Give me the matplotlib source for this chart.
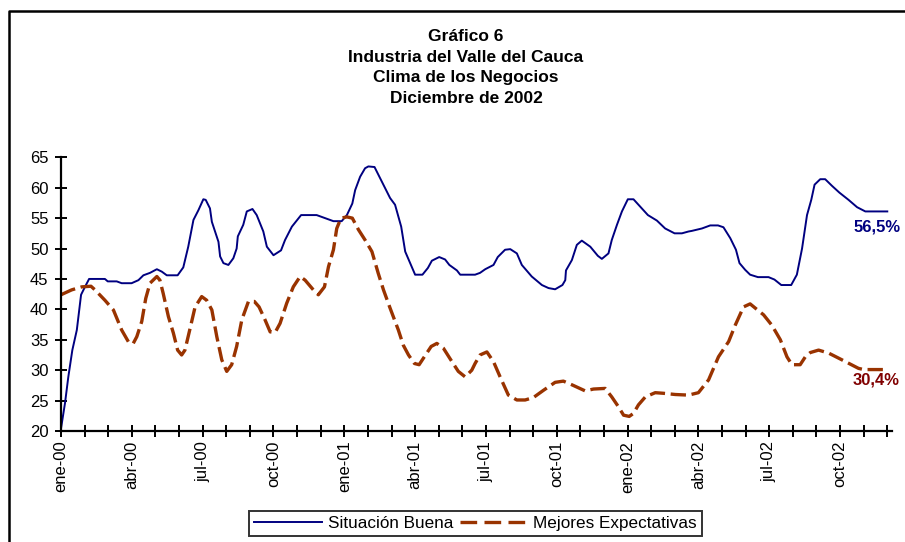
import matplotlib
matplotlib.use("Agg")
import matplotlib.pyplot as plt
from matplotlib.lines import Line2D

plt.rcParams['font.family'] = ['Liberation Sans', 'DejaVu Sans']

# ---- data ----
month_abbr = ["ene", "feb", "mar", "abr", "may", "jun", "jul", "ago", "sep", "oct", "nov", "dic"]
years = ["00", "01", "02"]
categories = [f"{m}-{y}" for y in years for m in month_abbr]  # 36 monthly categories

# positions expressed in months since ene-00
buena_t = [0.00, 0.17, 0.31, 0.48, 0.67, 0.85, 0.99, 1.19, 1.86, 1.98, 2.36, 2.57, 2.99, 3.28, 3.49,
           3.77, 4.06, 4.27, 4.48, 4.94, 5.18, 5.39, 5.61, 5.82, 6.03, 6.13, 6.31, 6.39, 6.67, 6.74,
           6.88, 7.09, 7.30, 7.44, 7.49, 7.72, 7.87, 8.11, 8.29, 8.57, 8.72, 9.00, 9.32, 9.49, 9.78,
           10.17, 10.83, 11.19, 11.54, 11.89, 12.11, 12.34, 12.46, 12.67, 12.88, 13.02, 13.28, 13.59,
           13.94, 14.15, 14.41, 14.58, 14.79, 15.00, 15.31, 15.54, 15.71, 16.02, 16.27, 16.45, 16.77,
           16.91, 17.54, 17.75, 17.97, 18.32, 18.50, 18.81, 19.03, 19.31, 19.52, 19.94, 20.37, 20.65,
           20.93, 21.24, 21.36, 21.39, 21.64, 21.85, 22.06, 22.42, 22.74, 22.91, 23.19, 23.33, 23.55,
           23.76, 24.01, 24.25, 24.53, 24.86, 25.24, 25.59, 25.99, 26.30, 26.58, 26.72, 27.15, 27.50,
           27.83, 28.06, 28.35, 28.59, 28.74, 28.98, 29.19, 29.52, 29.97, 30.22, 30.51, 30.93, 31.17,
           31.39, 31.60, 31.78, 31.92, 32.16, 32.37, 32.66, 32.97, 33.36, 33.72, 34.07, 35.00]
buena_v = [20.4, 24.6, 28.9, 33.3, 36.6, 42.4, 43.5, 45.0, 45.0, 44.6, 44.6, 44.3, 44.3, 44.8, 45.6,
           46.0, 46.6, 46.2, 45.6, 45.6, 46.9, 50.3, 54.7, 56.3, 58.1, 58.0, 56.6, 54.4, 51.1, 48.7,
           47.6, 47.3, 48.4, 50.0, 52.0, 53.9, 56.1, 56.5, 55.5, 52.8, 50.3, 48.9, 49.7, 51.4, 53.6,
           55.5, 55.5, 55.0, 54.5, 54.5, 55.5, 57.4, 59.6, 61.8, 63.2, 63.5, 63.4, 61.0,
           58.3, 57.2, 53.6, 49.5, 47.6, 45.7, 45.7, 46.8, 48.0, 48.6, 48.2, 47.3, 46.4,
           45.7, 45.7, 46.0, 46.6, 47.3, 48.6, 49.8, 49.9, 49.2, 47.3, 45.4, 44.0, 43.5,
           43.3, 44.0, 44.8, 46.4, 48.1, 50.6, 51.3, 50.3, 48.8, 48.3, 49.2, 51.4, 53.9,
           56.1, 58.1, 58.1, 56.9, 55.5, 54.6, 53.3, 52.5, 52.5, 52.8, 52.9, 53.3, 53.8,
           53.8, 53.5, 51.7, 49.8, 47.6, 46.5, 45.7, 45.3, 45.3, 44.9, 44.0, 44.0, 45.7,
           50.0, 55.5, 58.0, 60.5, 61.4, 61.4, 60.3, 59.2, 58.0, 56.8, 56.1, 56.1]

expect_t = [0.00, 0.45, 0.88, 1.27, 1.44, 1.86, 2.22, 2.57, 2.88, 3.06, 3.21, 3.42, 3.59, 3.77, 4.06,
            4.19, 4.33, 4.55, 4.76, 4.94, 5.11, 5.25, 5.47, 5.68, 5.96, 6.17, 6.39, 6.60, 6.81, 7.02,
            7.23, 7.44, 7.66, 7.94, 8.19, 8.39, 8.64, 8.86, 9.07, 9.28, 9.56, 9.84, 10.13, 10.34,
            10.69, 10.90, 11.16, 11.33, 11.54, 11.68, 11.86, 12.11, 12.34, 12.60, 12.88, 13.17,
            13.44, 13.66, 13.94, 14.29, 14.50, 14.72, 14.97, 15.17, 15.39, 15.68, 15.92, 16.20,
            16.56, 16.83, 17.12, 17.40, 17.54, 17.75, 18.04, 18.32, 18.60, 18.95, 19.31, 19.66,
            20.01, 20.44, 20.93, 21.28, 21.64, 22.20, 22.56, 23.05, 23.33, 23.61, 23.83, 24.07,
            24.25, 24.46, 24.75, 25.17, 25.52, 26.02, 26.58, 27.00, 27.43, 27.85, 28.28, 28.56,
            28.91, 29.19, 29.41, 29.76, 30.11, 30.47, 30.75, 30.96, 31.31, 31.53, 31.74, 32.09,
            32.52, 33.08, 33.78, 34.00, 34.89]
expect_v = [42.4, 43.2, 43.7, 43.8, 43.2, 41.5, 39.9, 36.6, 34.5, 34.4, 35.5, 38.0, 41.8, 44.3, 45.4,
            44.8, 42.6, 38.8, 36.1, 33.3, 32.5, 33.3, 36.9, 40.4, 42.1, 41.5, 39.9, 35.5, 31.7, 29.8,
            30.9, 33.9, 38.3, 41.3, 41.3, 40.4, 38.3, 36.3, 36.2, 37.7, 41.0, 43.7, 45.4, 44.8,
            43.2, 42.4, 43.7, 47.0, 49.8, 53.3, 55.0, 55.2, 55.0, 53.1, 51.4, 49.5,
            45.9, 43.2, 40.2, 36.6, 34.1, 32.5, 31.1, 30.9, 32.2, 33.9, 34.4, 33.6,
            31.4, 29.8, 28.9, 30.0, 31.1, 32.5, 33.0, 31.4, 28.9, 25.9, 25.1, 25.1,
            25.5, 26.7, 28.0, 28.2, 27.6, 26.6, 26.9, 27.0, 25.6, 24.0, 22.6, 22.4,
            22.9, 24.3, 25.6, 26.3, 26.2, 26.0, 25.9, 26.3, 28.4, 32.2, 34.7, 37.4,
            40.4, 40.9, 40.2, 39.1, 37.4, 35.0, 32.2, 30.9, 30.9, 32.2, 32.9, 33.3,
            32.8, 31.7, 30.3, 30.1, 30.1]

series_names = ["Situación Buena", "Mejores Expectativas"]
end_labels = ["56,5%", "30,4%"]
title_lines = ["Gráfico 6", "Industria del Valle del Cauca", "Clima de los Negocios", "Diciembre de 2002"]

# ---- style ----
BLUE = "#000080"
ORANGE = "#993300"
LABEL_RED = "#800000"

W, H = 905, 542
fig = plt.figure(figsize=(W / 100, H / 100), dpi=100)
ax = fig.add_axes([61 / W, 1 - 431 / H, (892 - 61) / W, (431 - 157.3) / H])

ax.plot(buena_t, buena_v, color=BLUE, lw=1.4, label=series_names[0], solid_joinstyle='round')
ax.plot(expect_t, expect_v, color=ORANGE, lw=2.4, linestyle=(0, (4.6, 1.7)),
        label=series_names[1])

ax.set_ylim(20, 65)
ax.set_xlim(0, 35.2)
ax.set_yticks(range(20, 66, 5))
ax.set_yticklabels([str(v) for v in range(20, 66, 5)], fontsize=12)
ax.set_xticks(range(len(categories)))
ax.set_xticklabels([c if i % 3 == 0 else "" for i, c in enumerate(categories)],
                   rotation=90, fontsize=12)
ax.tick_params(axis='both', direction='inout', length=8, width=1.4, color='black')
ax.tick_params(axis='y', pad=5)
ax.tick_params(axis='x', pad=3)
for s in ['top', 'right']:
    ax.spines[s].set_visible(False)
for s in ['left', 'bottom']:
    ax.spines[s].set_linewidth(1.6)
    ax.spines[s].set_color('black')
ax.patch.set_alpha(0)

# end-value labels
ax.text(33.55, 53.5, end_labels[0], color=BLUE, fontsize=12, fontweight='bold',
        ha='left', va='center')
ax.text(33.55, 28.4, end_labels[1], color=LABEL_RED, fontsize=12, fontweight='bold',
        ha='left', va='center')

# title
fig.text(466 / W, 1 - 29 / H, "\n".join(title_lines), ha='center', va='top',
         fontsize=12.5, fontweight='bold', linespacing=1.47)

# legend
leg = fig.legend(loc='upper center', bbox_to_anchor=(475.5 / W, 1 - 511 / H), ncol=2,
                 fontsize=12.3, frameon=True, fancybox=False, edgecolor='black',
                 handlelength=4.0, columnspacing=0.4, handletextpad=0.3,
                 borderpad=0.3, borderaxespad=0)
leg.get_frame().set_linewidth(1.4)
leg.get_lines()[1].set_linestyle((0, (5, 2.2)))

# outer frame (top and left edges visible)
fig.add_artist(Line2D([9 / W, 9 / W, 1.0], [0.0, 1 - 11 / H, 1 - 11 / H],
                      transform=fig.transFigure, color='black', lw=1.8))

fig.savefig("out.png", dpi=100)
